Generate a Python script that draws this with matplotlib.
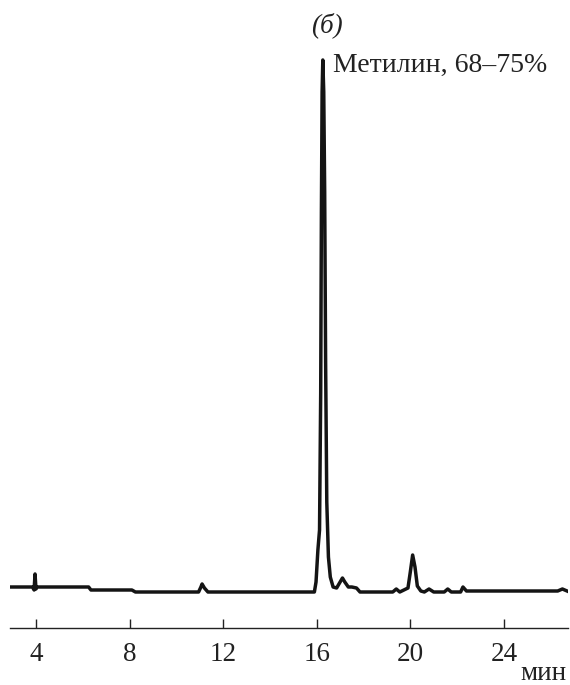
import matplotlib
matplotlib.use("Agg")
import matplotlib.pyplot as plt

# chromatogram: time (min) and detector signal (arb. units)
t = [2.9, 3.85, 3.92, 3.96, 4.0, 4.05, 6.25, 6.35, 8.1, 8.25,
     10.95, 11.05, 11.1, 11.2, 11.35, 15.9, 15.97, 16.05, 16.12, 16.17,
     16.2, 16.23, 16.26, 16.3, 16.34, 16.38, 16.43, 16.5, 16.58, 16.7,
     16.85, 17.0, 17.1, 17.2, 17.35, 17.5, 17.7, 17.85, 18.0, 19.25,
     19.4, 19.55, 19.9, 20.0, 20.1, 20.2, 20.3, 20.45, 20.6, 20.8,
     21.0, 21.45, 21.6, 21.75, 22.15, 22.25, 22.4, 26.3, 26.5, 26.7]
signal = [5, 5, 2, 18, 3, 5, 5, 2, 2, 0,
          0, 5, 8, 4, 0, 0, 10, 42, 62, 200,
          380, 500, 532, 500, 400, 230, 90, 35, 15, 5,
          4, 10, 14, 10, 5, 5, 4, 0, 0, 0,
          3, 0, 4, 20, 37, 25, 6, 1, 0, 3,
          0, 0, 3, 0, 0, 5, 1, 1, 3, 1]

xticks = [4, 8, 12, 16, 20, 24]
peak_label = "Метилин, 68–75%"
panel = "(б)"
unit = "мин"

plt.rcParams["font.family"] = ["Liberation Serif", "DejaVu Serif"]
fig = plt.figure(figsize=(5.7, 6.85), dpi=100)
ax = fig.add_axes([10 / 570, 57 / 685, 558 / 570, 578 / 685])

ax.plot(t, signal, color="#141414", lw=2.5, solid_joinstyle="round")

ax.set_xlim(2.89, 26.74)
ax.set_ylim(-36, 542)
ax.set_xticks(xticks)
ax.set_yticks([])
ax.tick_params(axis="x", direction="in", length=6.5, width=1, pad=10,
               labelsize=19.5, color="#222222", labelcolor="#222222")
for s in ["top", "right", "left"]:
    ax.spines[s].set_visible(False)
ax.spines["bottom"].set_linewidth(1)
ax.spines["bottom"].set_color("#222222")

ax.text(16.69, 520, peak_label, fontsize=20, color="#222222",
        ha="left", va="baseline")
fig.text(327 / 570, 1 - 25 / 685, panel, fontsize=19.5, style="italic",
         color="#222222", ha="center", va="center")
fig.text(567 / 570, 5 / 685, unit, fontsize=19.5, color="#222222",
         ha="right", va="baseline")

fig.savefig("out.png", dpi=100)
